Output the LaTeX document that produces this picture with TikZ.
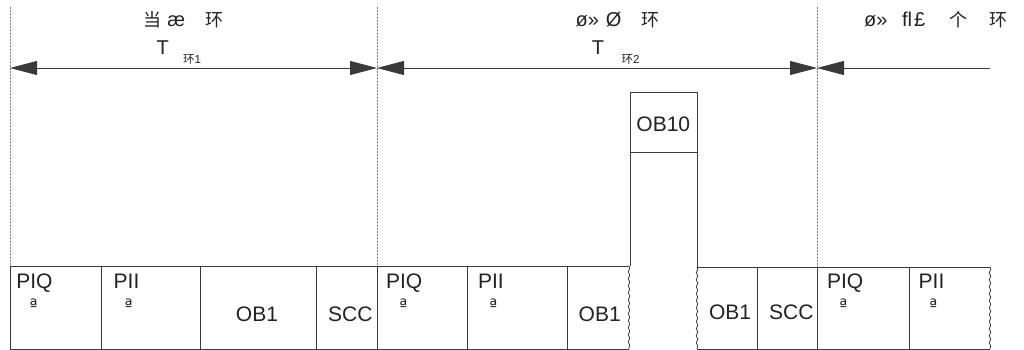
\documentclass[tikz,border=0pt]{standalone}
\usepackage{fontspec}
\setmainfont{Liberation Sans}
\newfontfamily\cjk{Noto Sans CJK SC}
\newfontfamily\ordf{DejaVu Sans}
\usetikzlibrary{arrows.meta,decorations.pathmorphing}
\definecolor{ink}{HTML}{222222}
\definecolor{lin}{HTML}{3A3A3A}
\definecolor{dsh}{HTML}{777777}
\newcommand\hzbig[1]{{\cjk\fontsize{18}{20}\selectfont #1}}
\newcommand\hzsmall[1]{{\cjk\fontsize{11.5}{13}\selectfont #1}}
\tikzset{
  boxline/.style={draw=lin, line width=0.9pt},
  wavyline/.style={draw=lin, line width=0.8pt, decorate, decoration={snake, amplitude=0.7pt, segment length=7pt}},
  sepline/.style={draw=dsh, line width=0.6pt, dash pattern=on 2pt off 1.2pt},
  spanarrow/.style={draw=lin, line width=0.8pt},
  lbl/.style={inner sep=0pt, text=ink, font=\fontsize{21}{24}\selectfont},
  ordlbl/.style={inner sep=0pt, text=ink, font=\ordf\fontsize{17}{19}\selectfont, anchor=north west},
  hdr/.style={inner sep=0pt, text=ink, font=\fontsize{20}{24}\selectfont, anchor=base west},
  sublbl/.style={inner sep=0pt, text=ink, font=\fontsize{11.5}{13}\selectfont, anchor=base west},
}
\begin{document}
\begin{tikzpicture}[x=1pt,y=-1pt]
\useasboundingbox (0,0) rectangle (1024,350);
% separators
\coordinate (d1t) at (10,7);   \coordinate (d1b) at (10,266);
\coordinate (d2t) at (377,7);  \coordinate (d2b) at (377,266);
\coordinate (d3t) at (817,7);  \coordinate (d3b) at (817,267);
\draw[sepline] (d1t) -- (d1b);
\draw[sepline] (d2t) -- (d2b);
\draw[sepline] (d3t) -- (d3b);
% span arrows
\coordinate (a1) at (10,68);
\coordinate (a2) at (377,68);
\coordinate (a3) at (817,68);
\coordinate (a4) at (990,68);
\tikzset{tri/.tip={Triangle[length=27pt,width=14pt]}}
\draw[spanarrow, tri-tri] (a1) -- (a2);
\draw[spanarrow, tri-tri] (a2) -- (a3);
\draw[spanarrow, tri-] (a3) -- (a4);
% headers
\node[hdr] (h1) at (143,27) {\hzbig{当}\hspace{6.2pt}æ\hspace{20.7pt}\hzbig{环}};
\node[hdr] (h2) at (575.5,27) {ø»\hspace{6.9pt}Ø\hspace{19.7pt}\hzbig{环}};
\node[hdr] (h3) at (864,27) {ø»\hspace{14.5pt}ﬂ\hspace{2pt}£\hspace{23.9pt}\hzbig{个}\hspace{22pt}\hzbig{环}};
\node[hdr, anchor=base] (t1) at (162.8,55) {T};
\node[sublbl] (s1) at (183,63.5) {\hzsmall{环}1};
\node[hdr, anchor=base] (t2) at (598,55) {T};
\node[sublbl] (s2) at (621.5,63.5) {\hzsmall{环}2};
% boxes: left part
\draw[boxline] (10,266) -- (629,266);
\draw[boxline] (10,349) -- (629,349);
\foreach \x in {10,101,200,316,377,467,567}{\draw[boxline] (\x,266) -- (\x,349);}
\draw[wavyline] (629,266) -- (629,349);
% OB10
\draw[boxline] (630,266) -- (630,92) -- (697,92) -- (697,267);
\draw[boxline] (630,152) -- (697,152);
% right part
\draw[boxline] (697,267) -- (990,267);
\draw[boxline] (697,349) -- (990,349);
\foreach \x in {757,817,909}{\draw[boxline] (\x,267) -- (\x,349);}
\draw[wavyline] (697,267) -- (697,349);
\draw[wavyline] (990,267) -- (990,349);
% labels
\node[lbl, anchor=base west] (piq1) at (16.2,288) {PIQ};
\node[lbl, anchor=base west] (pii1) at (113.5,288) {PII};
\node[ordlbl] (o1) at (29.5,298.5) {ª};
\node[ordlbl] (o2) at (124.5,298.5) {ª};
\node[lbl, anchor=base] (ob1a) at (257,321) {OB1};
\node[lbl, anchor=base] (scc1) at (350.3,321) {SCC};
\node[lbl, anchor=base west] (piq2) at (385.8,288) {PIQ};
\node[lbl, anchor=base west] (pii2) at (477.8,288) {PII};
\node[ordlbl] (o3) at (399.2,298.5) {ª};
\node[ordlbl] (o4) at (489.2,298.5) {ª};
\node[lbl, anchor=base] (ob1b) at (599.7,321.7) {OB1};
\node[lbl, anchor=base] (ob10) at (663.3,131.7) {OB10};
\node[lbl, anchor=base] (ob1c) at (730,319.3) {OB1};
\node[lbl, anchor=base] (scc2) at (791.3,319.3) {SCC};
\node[lbl, anchor=base west] (piq3) at (826.8,288.3) {PIQ};
\node[lbl, anchor=base west] (pii3) at (918.5,288.3) {PII};
\node[ordlbl] (o5) at (839.2,299) {ª};
\node[ordlbl] (o6) at (929.2,299) {ª};
\end{tikzpicture}
\end{document}
